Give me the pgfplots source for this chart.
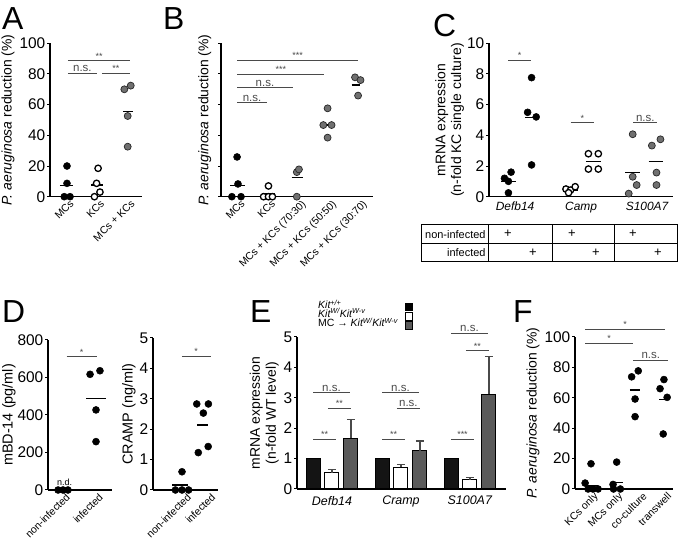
\documentclass[border=0pt]{standalone}
\usepackage{pgfplots}
\pgfplotsset{compat=1.18}
\usepackage{fontspec}
\setmainfont{Liberation Sans}
\definecolor{dotgray}{HTML}{707070}
\definecolor{bargray}{HTML}{5A5A5A}
\definecolor{siggray}{HTML}{4A4A4A}
\newcommand{\tickfont}{\fontsize{15.5}{16}\selectfont}
\newcommand{\labfont}{\fontsize{14}{16}\selectfont}
\newcommand{\catfont}{\fontsize{10.5}{11}\selectfont}
\newcommand{\letfont}{\fontsize{32}{32}\selectfont}
\newcommand{\nsfont}{\fontsize{11.5}{12}\selectfont}
\newcommand{\astfont}{\fontsize{9}{9}\selectfont}
\newcommand{\sig}[5][\astfont]{\draw[siggray, line width=0.9bp] (axis cs:#2,#4) -- (axis cs:#3,#4) node[midway, above, inner sep=1bp, font=#1, text=siggray] {#5};}
\newcommand{\meanline}[3]{\addplot[black, line width=1.4bp] coordinates {(#1,#3) (#2,#3)};}
\pgfplotsset{
  panel/.style={
    scale only axis, clip=false, anchor=south west,
    axis x line*=bottom, axis y line*=left,
    axis line style={line width=1.1bp, -},
    tick align=outside, major tick length=3bp,
    every tick/.style={black, line width=1bp},
    xtick style={draw=none},
    y tick label style={font=\tickfont, /pgf/number format/assume math mode=true, inner sep=1.5bp},
    ylabel style={font=\labfont},
  },
  rotlabels/.style={x tick label style={font=\catfont, rotate=45, anchor=north east, inner sep=1bp, xshift=3bp}},
  blk/.style={only marks, mark=*, mark size=3.5bp, mark options={fill=black, draw=black, line width=0.5bp}},
  opn/.style={only marks, mark=*, mark size=3.2bp, mark options={fill=white, draw=black, line width=1.3bp}},
  gry/.style={only marks, mark=*, mark size=3.5bp, mark options={fill=dotgray, draw=black!85, line width=0.7bp}},
  ebar/.style={error bars/.cd, y dir=plus, y explicit, error bar style={siggray, line width=1.1bp},
    error mark options={siggray, line width=1.1bp, mark size=4bp, rotate=90}},
}
\begin{document}
\begin{tikzpicture}[x=1bp,y=1bp]
% ---------------- A ----------------
\begin{axis}[panel, rotlabels, at={(50bp,348.3bp)}, width=92bp, height=153.4bp,
  xmin=-0.557, xmax=2.459, ymin=0, ymax=100, ytick={0,20,...,100},
  xtick={0,1,2}, xticklabels={MCs,KCs,MCs + KCs},
  ylabel={\textit{P. aeruginosa} reduction (\%)}]
\meanline{-0.23}{0.19}{7.2}
\meanline{0.79}{1.18}{7.6}
\meanline{1.85}{2.17}{55.4}
\addplot[blk] coordinates {(0,20) (0,8.7) (-0.09,0) (0.1,0)};
\addplot[opn] coordinates {(1.02,18.5) (0.97,8.7) (1.08,3) (0.9,0)};
\addplot[gry] coordinates {(1.88,70) (2.09,72.4) (1.99,52.6) (1.99,32.6)};
\sig[\nsfont]{0.03}{0.98}{80.4}{n.s.}
\sig{1.14}{2.07}{80.4}{**}
\sig{0.03}{2.07}{88.5}{**}
\end{axis}
% ---------------- B ----------------
\begin{axis}[panel, rotlabels, at={(221bp,348.3bp)}, width=152bp, height=153.4bp,
  xmin=-0.557, xmax=4.43, ymin=0, ymax=100, ytick={0,20,...,100}, yticklabels={},
  xtick={0,1,2,3,4}, xticklabels={MCs,KCs,MCs + KCs (70:30),MCs + KCs (50:50),MCs + KCs (30:70)},
  ylabel={\textit{P. aeruginosa} reduction (\%)}]
\meanline{-0.26}{0.23}{7.4}
\meanline{0.8}{1.2}{2}
\meanline{1.76}{2.14}{12.4}
\meanline{2.78}{3.1}{46.7}
\meanline{3.73}{4.0}{72.8}
\addplot[blk] coordinates {(-0.03,25.9) (0,8.3) (-0.2,0) (0.1,0)};
\addplot[opn] coordinates {(0.84,0) (1.0,0) (1.13,0) (1.0,7)};
\addplot[gry] coordinates {(1.93,0) (1.93,16) (2.0,17.8)};
\addplot[gry] coordinates {(2.94,57.6) (2.8,46.7) (3.07,46.7) (2.94,38.5)};
\addplot[gry] coordinates {(3.94,65.9) (3.84,77.8) (4.02,76)};
\sig[\nsfont]{-0.02}{0.94}{61.3}{n.s.}
\sig[\nsfont]{-0.02}{1.79}{71}{n.s.}
\sig{-0.02}{2.83}{80}{***}
\sig{-0.02}{3.94}{89}{***}
\end{axis}
% ---------------- C ----------------
\begin{axis}[panel, at={(489bp,348.3bp)}, width=184bp, height=153.4bp,
  xmin=0.606, xmax=3.39, ymin=0, ymax=10, ytick={0,2,...,10},
  xtick={1,2,3}, xticklabels={\textit{Defb14},\textit{Camp},\textit{S100A7}},
  x tick label style={font=\fontsize{12}{13}\selectfont, inner sep=2bp},
  ylabel={mRNA expression\\(n-fold KC single culture)}, ylabel style={align=center, yshift=-2bp}]
\meanline{0.79}{1.02}{1.0}
\meanline{1.15}{1.34}{5.17}
\meanline{1.72}{1.95}{0.43}
\meanline{2.07}{2.30}{2.3}
\meanline{2.67}{2.89}{1.56}
\meanline{3.02}{3.24}{2.3}
\addplot[blk] coordinates {(0.84,1.2) (0.94,1.6) (0.9,1.0) (0.9,0.25)};
\addplot[blk] coordinates {(1.25,7.76) (1.19,5.5) (1.32,5.2) (1.25,2.07)};
\addplot[opn] coordinates {(1.77,0.5) (1.84,0.43) (1.91,0.65) (1.81,0.26)};
\addplot[opn] coordinates {(2.11,2.8) (2.26,2.8) (2.11,1.8) (2.26,1.8)};
\addplot[gry] coordinates {(2.78,4.07) (2.78,1.3) (2.84,0.76) (2.72,0.2)};
\addplot[gry] coordinates {(3.2,3.74) (3.07,3.33) (3.14,1.57) (3.14,0.76)};
\sig{0.9}{1.24}{8.9}{*}
\sig{1.84}{2.2}{4.83}{*}
\sig[\nsfont]{2.79}{3.15}{4.83}{n.s.}
\end{axis}
% table under C
\begin{scope}[line width=1bp]
\draw (421,283) rectangle (677,320);
\draw (421,301.5) -- (677,301.5);
\foreach \xx in {488,552,614} {\draw (\xx,283) -- (\xx,320);}
\node[anchor=east, font=\fontsize{11}{12}\selectfont, inner sep=0] at (486,310.8) {non-infected};
\node[anchor=east, font=\fontsize{11}{12}\selectfont, inner sep=0] at (486,292.2) {infected};
\foreach \xx in {508,572,633} {\node[font=\fontsize{13}{13}\selectfont, inner sep=0] at (\xx,311) {+};}
\foreach \xx in {533,596,658} {\node[font=\fontsize{13}{13}\selectfont, inner sep=0] at (\xx,292.3) {+};}
\end{scope}
% ---------------- D left ----------------
\begin{axis}[panel, rotlabels, at={(48bp,55bp)}, width=64bp, height=150bp,
  xmin=-0.455, xmax=1.485, ymin=0, ymax=800, ytick={0,200,...,800},
  xtick={0,1}, xticklabels={non-infected,infected},
  ylabel={mBD-14 (pg/ml)}, ylabel style={font=\fontsize{14.5}{16}\selectfont, yshift=-3bp}]
\meanline{0.7}{1.3}{487}
\addplot[blk] coordinates {(-0.15,0) (0,0) (0.15,0)};
\addplot[blk] coordinates {(0.82,617) (1.12,636) (1.0,427) (1.0,258)};
\node[anchor=south, font=\fontsize{9}{9}\selectfont, inner sep=0, yshift=4bp] at (axis cs:0.05,0) {n.d.};
\sig{0.11}{1.02}{711}{*}
\end{axis}
% ---------------- D right ----------------
\begin{axis}[panel, rotlabels, at={(153bp,55bp)}, width=65bp, height=152bp,
  xmin=-1.318, xmax=1.636, ymin=0, ymax=5, ytick={0,1,...,5},
  xtick={0.1,1.2}, xticklabels={non-infected,infected},
  ylabel={CRAMP (ng/ml)}, ylabel style={font=\fontsize{14.5}{16}\selectfont, yshift=-1bp}]
\meanline{-0.45}{0.25}{0.165}
\meanline{0.7}{1.2}{2.14}
\addplot[blk] coordinates {(-0.3,0) (0,0) (0.3,0) (0,0.6)};
\addplot[blk] coordinates {(0.67,2.83) (1.2,2.83) (0.97,2.53) (0.74,1.23) (1.19,1.43)};
\sig{-0.01}{1.3}{4.4}{*}
\end{axis}
% ---------------- E ----------------
\begin{axis}[panel, at={(297bp,56bp)}, width=209bp, height=152bp,
  xmin=0.493, xmax=3.522, ymin=0, ymax=5, ytick={0,1,...,5},
  xtick={1,2,3}, xticklabels={\textit{Defb14},\textit{Cramp},\textit{S100A7}},
  x tick label style={font=\fontsize{12.5}{13}\selectfont, inner sep=4bp},
  ylabel={mRNA expression\\(n-fold WT level)}, ylabel style={align=center}]
\addplot[ybar, bar width=0.203, bar shift=0, fill=black!92, draw=black, line width=1bp]
  coordinates {(0.725,1) (1.725,1) (2.725,1)};
\addplot[ybar, bar width=0.203, bar shift=0, fill=white, draw=black, line width=1bp, ebar]
  coordinates {(1,0.54) +- (0,0.11) (2,0.71) +- (0,0.11) (3,0.31) +- (0,0.07)};
\addplot[ybar, bar width=0.203, bar shift=0, fill=bargray, draw=black, line width=1bp, ebar]
  coordinates {(1.275,1.67) +- (0,0.63) (2.275,1.26) +- (0,0.32) (3.275,3.12) +- (0,1.24)};
\sig{0.725}{1.058}{1.64}{**}
\sig[\nsfont]{0.725}{1.26}{3.16}{n.s.}
\sig{0.94}{1.275}{2.65}{**}
\sig{1.725}{2.058}{1.64}{**}
\sig[\nsfont]{1.725}{2.26}{3.16}{n.s.}
\sig[\nsfont]{1.94}{2.275}{2.65}{n.s.}
\sig{2.725}{3.058}{1.64}{***}
\sig{2.94}{3.275}{4.55}{**}
\sig[\nsfont]{2.725}{3.26}{5.13}{n.s.}
\end{axis}
% E legend
\begin{scope}[font=\fontsize{10.5}{10.5}\selectfont]
\node[anchor=base west, inner sep=0] at (318,236) {\textit{Kit\textsuperscript{+/+}}};
\node[anchor=base west, inner sep=0] at (318,227.5) {\textit{Kit\textsuperscript{W/}Kit\textsuperscript{W-v}}};
\node[anchor=base west, inner sep=0] at (318,218) {MC → \textit{Kit\textsuperscript{W/}Kit\textsuperscript{W-v}}};
\filldraw[fill=black, draw=black, line width=0.6bp] (405,234.5) rectangle (412.5,242);
\filldraw[fill=white, draw=black, line width=0.6bp] (405,225) rectangle (412.5,232.5);
\filldraw[fill=bargray, draw=black, line width=0.6bp] (405,216) rectangle (412.5,223.5);
\end{scope}
% ---------------- F ----------------
\begin{axis}[panel, rotlabels, at={(575bp,56bp)}, width=98bp, height=152bp,
  xmin=-0.653, xmax=3.35, ymin=0, ymax=100, ytick={0,20,...,100},
  xtick={0,1,2,3}, xticklabels={KCs only,MCs only,co-culture,transwell},
  ylabel={\textit{P. aeruginosa} reduction (\%)}]
\meanline{-0.12}{0.29}{2.2}
\meanline{0.8}{1.3}{4.4}
\meanline{1.59}{2.0}{65}
\meanline{2.78}{3.14}{59}
\addplot[blk] coordinates {(0,16.6) (-0.24,3.9) (-0.12,0) (0.08,0) (0.29,0)};
\addplot[blk] coordinates {(1.05,17.7) (0.9,3) (0.92,0) (1.2,0)};
\addplot[blk] coordinates {(1.66,73.8) (1.93,77.7) (1.8,59.2) (1.8,47.6)};
\addplot[blk] coordinates {(2.98,72) (2.82,66) (3.11,60.3) (2.95,36.2)};
\sig{-0.24}{1.73}{96}{*}
\sig{-0.24}{3.02}{105}{*}
\sig[\nsfont]{1.73}{3.16}{84.7}{n.s.}
\end{axis}
% panel letters
\begin{scope}[font=\letfont]
\node[anchor=base west, inner sep=0] at (2,515) {A};
\node[anchor=base west, inner sep=0] at (163,515) {B};
\node[anchor=base west, inner sep=0] at (433,508) {C};
\node[anchor=base west, inner sep=0] at (2,222) {D};
\node[anchor=base west, inner sep=0] at (250,222) {E};
\node[anchor=base west, inner sep=0] at (513,222) {F};
\end{scope}
\pgfresetboundingbox
\path[use as bounding box] (0,0) rectangle (678,545);
\end{tikzpicture}
\end{document}
